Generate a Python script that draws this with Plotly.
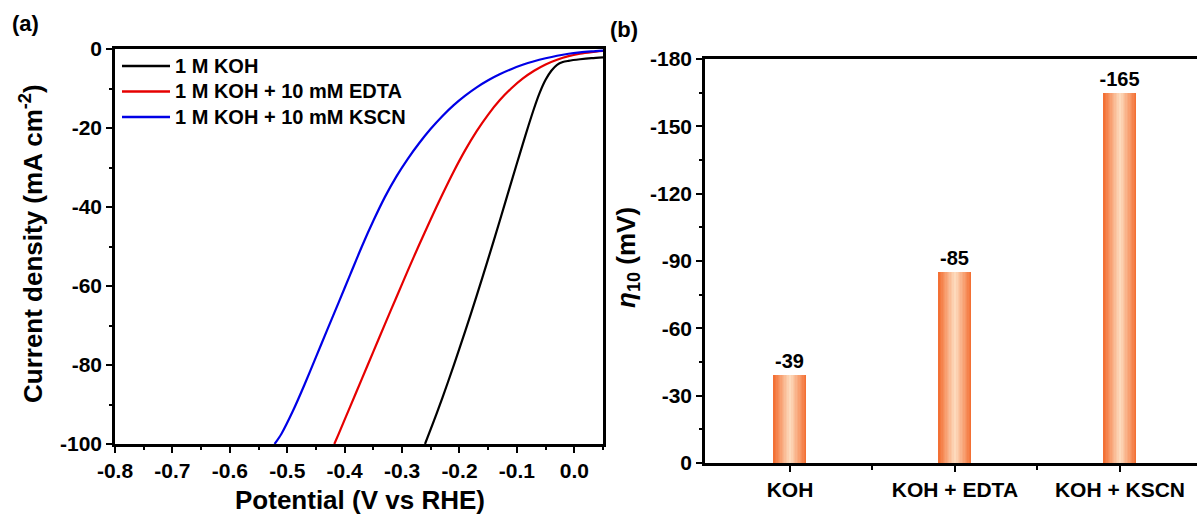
import plotly.graph_objects as go

# ---- LSV polarization curves (potential in V vs RHE, current density in mA cm^-2) ----
koh_v = [0.05, 0.03, 0.01, -0.01, -0.02, -0.03, -0.04, -0.05, -0.06, -0.07, -0.08,
         -0.09, -0.10, -0.12, -0.14, -0.16, -0.18, -0.20, -0.22, -0.24, -0.26]
koh_j = [-2.1, -2.3, -2.6, -3.0, -3.3, -4.0, -5.5, -7.8, -11.0, -15.0, -19.5,
         -24.2, -29.0, -38.7, -48.4, -57.8, -67.0, -75.8, -84.3, -92.4, -100.0]

edta_v = [0.05, 0.03, 0.01, -0.01, -0.03, -0.05, -0.07, -0.09, -0.11, -0.13, -0.15, -0.17,
          -0.19, -0.21, -0.23, -0.25, -0.27, -0.29, -0.31, -0.33, -0.35, -0.37, -0.39,
          -0.41, -0.418]
edta_j = [-0.5, -0.8, -1.2, -1.8, -2.7, -3.9, -5.5, -7.5, -10.0, -13.0, -16.6, -20.8,
          -25.6, -31.0, -36.9, -43.1, -49.5, -56.1, -62.9, -69.7, -76.6, -83.5, -90.4,
          -97.3, -100.0]

kscn_v = [0.05, 0.03, 0.01, -0.01, -0.03, -0.05, -0.07, -0.09, -0.11, -0.13, -0.15, -0.17,
          -0.19, -0.21, -0.23, -0.25, -0.27, -0.29, -0.31, -0.33, -0.35, -0.37, -0.39,
          -0.41, -0.43, -0.45, -0.47, -0.49, -0.51, -0.522]
kscn_j = [-0.4, -0.6, -0.85, -1.2, -1.7, -2.35, -3.1, -4.0, -5.1, -6.4, -7.9, -9.7,
          -11.8, -14.2, -17.0, -20.2, -23.8, -27.8, -32.3, -37.5, -43.5, -50.0, -57.0,
          -64.0, -71.0, -78.0, -85.0, -91.6, -97.4, -100.0]

curve_names = ["1 M KOH", "1 M KOH + 10 mM EDTA", "1 M KOH + 10 mM KSCN"]
curve_colors = ["#000000", "#E60000", "#0000E6"]

# ---- overpotential at 10 mA cm^-2 ----
systems = ["KOH", "KOH + EDTA", "KOH + KSCN"]
eta10 = [-39, -85, -165]

# ---- tick values ----
potential_ticks = [-0.8, -0.7, -0.6, -0.5, -0.4, -0.3, -0.2, -0.1, 0.0]
current_ticks = [0, -20, -40, -60, -80, -100]
eta_ticks = [0, -30, -60, -90, -120, -150, -180]

FONT = "Arial, 'Liberation Sans', sans-serif"
W, H = 1197, 519


def px_x(p):
    return p / W


def px_y(p):
    return 1 - p / H


def bold(size):
    return dict(family=FONT, size=size, color="black", weight="bold")


fig = go.Figure()

# left panel: polarization curves
for v, j, name, color in zip([koh_v, edta_v, kscn_v], [koh_j, edta_j, kscn_j],
                             curve_names, curve_colors):
    fig.add_trace(go.Scatter(
        x=v, y=j, mode="lines", name=name, showlegend=False,
        line=dict(color=color, width=2.2, shape="spline", smoothing=0.8),
        xaxis="x", yaxis="y",
    ))

# compact key in the upper-left corner of panel (a)
key_rows = [66, 91.5, 117]
for name, color, row in zip(curve_names, curve_colors, key_rows):
    fig.add_shape(type="line", xref="paper", yref="paper",
                  x0=px_x(122), x1=px_x(170), y0=px_y(row), y1=px_y(row),
                  line=dict(color=color, width=2.6))
    fig.add_annotation(text=name, xref="paper", yref="paper",
                       x=px_x(173), y=px_y(row), xanchor="left", yanchor="middle",
                       showarrow=False, font=bold(20))

# right panel: shaded bars built from nested layers (edge -> centre)
edge_rgb = (243, 112, 52)
centre_rgb = (253, 218, 188)
n_layers = 12
bar_width = 0.2
positions = list(range(len(systems)))
for k in range(n_layers):
    t = k / (n_layers - 1)
    rgb = tuple(round(e + (c - e) * t) for e, c in zip(edge_rgb, centre_rgb))
    w = bar_width * (1 - k / n_layers)
    fig.add_trace(go.Bar(
        x=positions, y=eta10, width=w, base=0,
        marker=dict(color="rgb(%d,%d,%d)" % rgb, line=dict(width=0)),
        xaxis="x2", yaxis="y2", showlegend=False,
        text=[str(v) for v in eta10] if k == 0 else None,
        textposition="outside" if k == 0 else "none",
        textfont=bold(20), constraintext="none",
        cliponaxis=False,
        hoverinfo="skip" if k else None,
    ))

axis_common = dict(
    showline=True, linecolor="black", linewidth=2.5,
    ticks="outside", ticklen=6, tickwidth=2, tickcolor="black",
    showgrid=False, zeroline=False, tickfont=bold(21), automargin=False,
)
minor_common = dict(ticks="outside", ticklen=3, tickwidth=2, tickcolor="black")

fig.update_layout(
    width=W, height=H,
    margin=dict(l=0, r=0, t=0, b=0),
    paper_bgcolor="white", plot_bgcolor="white",
    barmode="overlay", bargap=0,
    font=dict(family=FONT, color="black"),
    showlegend=False,
    xaxis=dict(
        **axis_common,
        domain=[px_x(115), px_x(603)], anchor="y",
        range=[-0.8, 0.05], mirror=True,
        tickmode="array", tickvals=potential_ticks,
        ticktext=["%.1f" % t for t in potential_ticks],
        minor=dict(**minor_common, tickmode="linear", tick0=-0.8, dtick=0.05),
    ),
    yaxis=dict(
        **axis_common,
        domain=[px_y(444), px_y(49)], anchor="x",
        range=[-100, 0], mirror=True,
        tickmode="array", tickvals=current_ticks,
        ticktext=["%d" % t for t in current_ticks],
        minor=dict(**minor_common, tickmode="linear", tick0=0, dtick=10),
    ),
    xaxis2=dict(
        **axis_common,
        domain=[px_x(705), 1.0], anchor="y2",
        range=[-0.515, 2.467], mirror=True,
        tickmode="array", tickvals=positions, ticktext=systems,
        minor=dict(ticks="outside", ticklen=4, tickwidth=2, tickcolor="black",
                   tickmode="array", tickvals=[0.5, 1.5]),
    ),
    yaxis2=dict(
        **axis_common,
        domain=[px_y(463), px_y(59)], anchor="x2",
        range=[0, -180], mirror=False,
        tickmode="array", tickvals=eta_ticks,
        ticktext=["%d" % t for t in eta_ticks],
        minor=dict(**minor_common, tickmode="linear", tick0=0, dtick=15),
    ),
)

annotations = [
    dict(text="Potential (V vs RHE)", x=px_x(360), y=px_y(500), font=bold(26)),
    dict(text="Current density (mA cm<sup>-2</sup>)", x=px_x(31), y=px_y(244),
         textangle=-90, font=bold(26)),
    dict(text="<i>η</i><sub>10</sub> (mV)", x=px_x(627), y=px_y(258),
         textangle=-90, font=bold(26)),
    dict(text="(a)", x=px_x(25), y=px_y(24), font=bold(22)),
    dict(text="(b)", x=px_x(624), y=px_y(30), font=bold(22)),
]
for a in annotations:
    fig.add_annotation(xref="paper", yref="paper", showarrow=False,
                       xanchor="center", yanchor="middle", **a)

fig.write_html("out.html")
